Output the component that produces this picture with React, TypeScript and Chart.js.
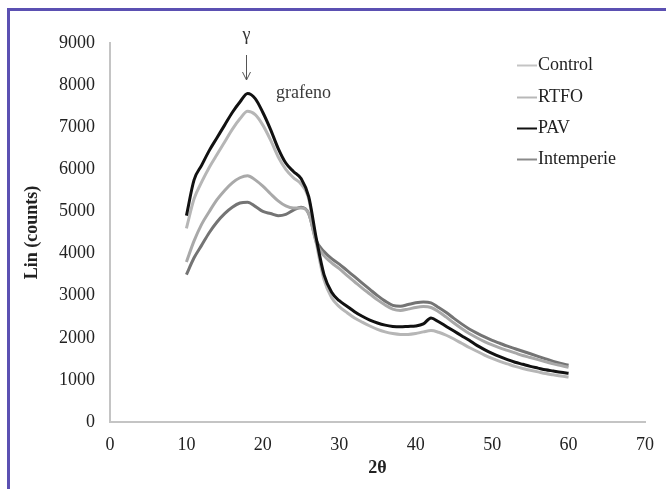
import React, { useEffect, useRef } from "react";
import { Chart, registerables } from "chart.js";

Chart.register(...registerables);

// 2θ positions (degrees) sampled along the diffractograms
const twoTheta = [
  10, 11, 12, 13, 14, 15, 16, 17, 18, 19, 20, 21, 22, 23, 24, 25, 26, 27, 28, 29,
  30, 31, 32, 33, 34, 35, 36, 37, 38, 39, 40, 41, 42, 43, 44, 45, 46, 47, 48, 49,
  50, 51, 52, 53, 54, 55, 56, 57, 58, 59, 60,
];

const control = [
  3800, 4300, 4700, 5000, 5280, 5500, 5680, 5800, 5850, 5750, 5600, 5420, 5250, 5130, 5080, 5080, 4950, 4250, 3950, 3780,
  3640, 3480, 3330, 3180, 3040, 2900, 2780, 2680, 2650, 2680, 2720, 2740, 2720, 2620, 2490, 2350, 2220, 2100, 2000, 1910,
  1830, 1760, 1700, 1640, 1580, 1530, 1480, 1430, 1380, 1340, 1300,
];

const rtfo = [
  4600, 5300, 5700, 6050, 6350, 6650, 6950, 7200, 7380, 7300, 7050, 6700, 6300, 6000, 5800, 5650, 5300, 4250, 3380, 2950,
  2740, 2600, 2470, 2370, 2280, 2200, 2140, 2100, 2080, 2080, 2100, 2140, 2170, 2130, 2060, 1970, 1870, 1770, 1680, 1590,
  1510, 1440, 1380, 1320, 1270, 1230, 1190, 1150, 1120, 1090, 1070,
];

const pav = [
  4900, 5750, 6100, 6450, 6750, 7050, 7350, 7600, 7800, 7680, 7350, 6950, 6500, 6150, 5950, 5780, 5350, 4350, 3500, 3080,
  2880, 2750, 2620, 2510, 2420, 2350, 2300, 2270, 2260, 2270, 2280, 2330, 2470, 2380, 2270, 2160, 2050, 1940, 1820, 1720,
  1630, 1550, 1480, 1420, 1370, 1320, 1280, 1240, 1210, 1180, 1160,
];

const intemperie = [
  3500, 3900, 4200, 4500, 4750, 4950, 5100, 5200, 5220, 5120, 5000, 4950, 4900, 4930, 5030, 5100, 4950, 4300, 4050, 3880,
  3750, 3600, 3450, 3300, 3150, 3000, 2870, 2770, 2750, 2790, 2830, 2850, 2830, 2720, 2600, 2460, 2330, 2210, 2110, 2020,
  1940, 1870, 1800, 1740, 1680, 1620, 1560, 1500, 1440, 1390, 1350,
];

const seriesNames = ["Control", "RTFO", "PAV", "Intemperie"];
const seriesColors = ["#a9a9a9", "#b6b6b6", "#111111", "#747474"];
const legendColors = ["#c4c4c4", "#b8b8b8", "#111111", "#8a8a8a"];

const xTitle = "2θ";
const yTitle = "Lin (counts)";
const peakLabel = "γ";
const peakNote = "grafeno";
const peakPosition = 17.8;

const serif = "'Liberation Serif', 'Times New Roman', serif";

const toPoints = (values: number[]) => values.map((y, i) => ({ x: twoTheta[i], y }));

const decorations = {
  id: "decorations",
  afterDraw(chart: any) {
    const { ctx, chartArea, scales } = chart;
    ctx.save();

    // axis titles
    ctx.fillStyle = "#222";
    ctx.font = `bold 18px ${serif}`;
    ctx.textAlign = "center";
    ctx.textBaseline = "middle";
    ctx.fillText(xTitle, (chartArea.left + chartArea.right) / 2, 468);
    ctx.save();
    ctx.translate(32, (chartArea.top + chartArea.bottom) / 2);
    ctx.rotate(-Math.PI / 2);
    ctx.fillText(yTitle, 0, 0);
    ctx.restore();

    // peak marker with arrow
    const px = Math.round(scales.x.getPixelForValue(peakPosition)) + 0.5;
    ctx.font = `18px ${serif}`;
    ctx.fillStyle = "#333";
    ctx.fillText(peakLabel, px, 35);
    ctx.strokeStyle = "#555";
    ctx.lineWidth = 1;
    ctx.beginPath();
    ctx.moveTo(px, 55);
    ctx.lineTo(px, 80);
    ctx.moveTo(px - 4, 72);
    ctx.lineTo(px, 80);
    ctx.lineTo(px + 4, 72);
    ctx.stroke();
    ctx.fillStyle = "#3a3a3a";
    ctx.textAlign = "left";
    ctx.fillText(peakNote, 276, 93);

    // legend
    const rows = [65, 97, 128, 159];
    ctx.font = `18px ${serif}`;
    ctx.textBaseline = "middle";
    seriesNames.forEach((name, i) => {
      ctx.strokeStyle = legendColors[i];
      ctx.lineWidth = 2;
      ctx.beginPath();
      ctx.moveTo(517, rows[i] + 0.5);
      ctx.lineTo(537, rows[i] + 0.5);
      ctx.stroke();
      ctx.fillStyle = "#222";
      ctx.fillText(name, 538, rows[i]);
    });

    ctx.restore();
  },
};

export default function App() {
  const canvasRef = useRef<HTMLCanvasElement | null>(null);

  useEffect(() => {
    document.body.style.margin = "0";
    const canvas = canvasRef.current;
    if (!canvas) return;
    const all = [control, rtfo, pav, intemperie];
    const chart = new Chart(canvas, {
      type: "line",
      data: {
        datasets: seriesNames.map((name, i) => ({
          label: name,
          data: toPoints(all[i]),
          borderColor: seriesColors[i],
          backgroundColor: seriesColors[i],
          borderWidth: 3,
          pointRadius: 0,
          cubicInterpolationMode: "monotone" as const,
          fill: false,
          order: i === 2 ? 0 : i + 1,
        })),
      },
      options: {
        responsive: false,
        animation: false,
        layout: { padding: { left: 0, right: 13, top: 43, bottom: 0 } },
        plugins: {
          legend: { display: false },
          tooltip: { enabled: false },
        },
        scales: {
          x: {
            type: "linear",
            min: 0,
            max: 70,
            ticks: {
              stepSize: 10,
              padding: 12,
              color: "#222",
              font: { family: serif, size: 18 },
              callback: (v: any) => String(v),
            },
            grid: { display: false, drawTicks: false },
            border: { display: true, color: "#c4c4c4", width: 2 },
            afterFit: (scale: any) => {
              scale.height = 67;
            },
          },
          y: {
            min: 0,
            max: 9000,
            ticks: {
              stepSize: 1000,
              padding: 15,
              color: "#222",
              font: { family: serif, size: 18 },
              callback: (v: any) => String(v),
            },
            grid: { display: false, drawTicks: false },
            border: { display: true, color: "#c4c4c4", width: 2 },
            afterFit: (scale: any) => {
              scale.width = 110;
            },
          },
        },
      },
      plugins: [decorations],
    });
    return () => chart.destroy();
  }, []);

  return (
    <div style={{ position: "relative", width: 666, height: 489, overflow: "hidden", background: "#fff" }}>
      <canvas ref={canvasRef} width={666} height={489} style={{ display: "block" }} />
      <div
        style={{
          position: "absolute",
          left: 7,
          top: 8,
          width: 800,
          height: 800,
          borderLeft: "3px solid #5b50b2",
          borderTop: "3px solid #5b50b2",
          pointerEvents: "none",
        }}
      />
    </div>
  );
}
